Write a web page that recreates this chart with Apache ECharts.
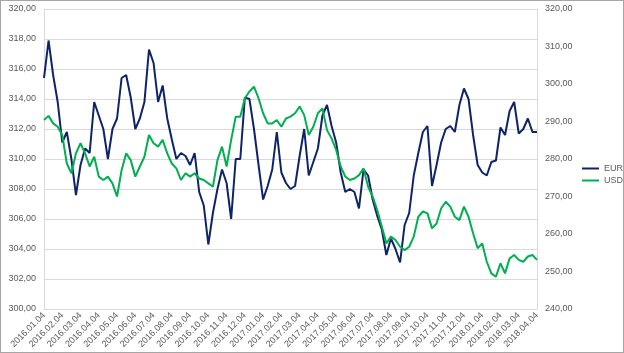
<!DOCTYPE html>
<html>
<head>
<meta charset="utf-8">
<script src="https://cdn.jsdelivr.net/npm/echarts@6/dist/echarts.min.js"></script>
<style>
html, body { margin: 0; padding: 0; background: #fff; }
#box {
    width: 624px;
    height: 353px;
    box-sizing: border-box;
    border: 1px solid #a6a6a6;
}
#chart { width: 622px; height: 351px; }
</style>
</head>
<body>
<div id="box"><div id="chart"></div></div>
<script>
// months on the x axis, weekly readings (04, 11, 18, 25)
var months = ['2016.01','2016.02','2016.03','2016.04','2016.05','2016.06','2016.07','2016.08','2016.09',
    '2016.10','2016.11','2016.12','2017.01','2017.02','2017.03','2017.04','2017.05','2017.06',
    '2017.07','2017.08','2017.09','2017.10','2017.11','2017.12','2018.01','2018.02','2018.03','2018.04'];
var days = ['04', '11', '18', '25'];

// EUR (left axis)
var eur = [315.4,317.9,315.6,313.8, 311.1,311.8,310.0,307.6, 309.6,310.7,310.4,313.8,
    312.9,312.0,310.0,312.0, 312.7,315.4,315.6,314.1, 312.0,312.7,313.8,317.3,
    316.4,313.8,314.9,312.7, 311.3,310.0,310.4,310.2, 309.6,310.4,307.8,306.9,
    304.3,306.4,308.0,309.3, 308.4,306.0,310.0,310.0, 314.1,314.0,312.0,309.6,
    307.3,308.2,309.3,311.8, 309.1,308.4,308.0,308.2, 310.2,312.0,308.9,309.8,
    310.7,312.9,313.6,312.2, 311.1,309.1,307.8,308.0, 307.8,306.7,309.3,308.9,
    307.3,306.2,305.3,303.6, 304.7,304.0,303.1,305.6, 306.4,308.9,310.4,311.8,
    312.2,308.2,309.6,311.1, 312.0,312.2,311.8,313.6, 314.7,314.0,311.6,309.6,
    309.1,308.9,309.8,309.9, 312.1,311.6,313.2,313.8, 311.7,312.0,312.7,311.8,
    311.8];

// USD (right axis)
var usd = [290.4,291.5,289.5,288.6, 286.4,278.8,276.2,281.5, 284.2,281.5,278.0,280.6,
    275.3,274.4,275.3,273.5, 270.0,277.0,281.5,279.7, 275.3,278.0,280.6,286.4,
    284.2,283.3,285.1,281.5, 278.8,277.5,274.4,276.2, 275.3,276.2,274.8,274.4,
    273.5,272.6,279.7,283.3, 278.0,285.1,291.3,291.3, 296.2,298.0,299.3,296.2,
    292.2,289.5,289.5,290.4, 288.6,290.8,291.3,292.2, 294.0,291.7,286.4,288.6,
    292.2,293.5,287.7,285.5, 282.4,278.0,275.3,274.4, 274.8,275.7,277.5,272.6,
    270.0,266.4,262.0,257.5, 259.3,258.4,256.6,255.7, 256.6,259.3,264.6,266.0,
    265.5,261.5,262.8,266.8, 268.6,267.3,264.6,263.7, 267.3,264.6,260.2,256.2,
    257.5,252.6,249.5,248.6, 252.2,249.5,253.5,254.4, 253.1,252.6,254.0,254.4,
    253.1];

var dates = [];
months.forEach(function (m) {
    days.forEach(function (d) { dates.push(m + '.' + d); });
});
dates = dates.slice(0, eur.length);

function fmt(v) { return v.toFixed(2).replace('.', ','); }

var chart = echarts.init(document.getElementById('chart'));
var lbl = { color: '#595959', fontSize: 9, fontFamily: 'Liberation Sans' };

chart.setOption({
    animation: false,
    backgroundColor: '#fff',
    grid: { left: 43, right: 86, top: 8, bottom: 43 },
    legend: {
        orient: 'vertical',
        left: 581,
        top: 163,
        padding: 0,
        icon: 'rect',
        itemWidth: 17,
        itemHeight: 2,
        itemGap: 3,
        textStyle: { color: '#595959', fontSize: 9, fontFamily: 'Liberation Sans' },
        data: ['EUR', 'USD']
    },
    xAxis: {
        type: 'category',
        data: dates,
        boundaryGap: false,
        axisLine: { lineStyle: { color: '#d9d9d9' } },
        axisTick: { show: false },
        axisLabel: Object.assign({ rotate: 45, interval: 3, margin: 5 }, lbl),
        splitLine: { show: false }
    },
    yAxis: [
        {
            type: 'value', min: 300, max: 320, interval: 2,
            axisLine: { show: true, lineStyle: { color: '#d9d9d9' } },
            axisTick: { show: false },
            axisLabel: Object.assign({ formatter: fmt, margin: 8 }, lbl),
            splitLine: { lineStyle: { color: '#d9d9d9' } }
        },
        {
            type: 'value', min: 240, max: 320, interval: 10,
            axisLine: { show: true, lineStyle: { color: '#d9d9d9' } },
            axisTick: { show: false },
            axisLabel: Object.assign({ formatter: fmt, margin: 8 }, lbl),
            splitLine: { show: false }
        }
    ],
    series: [
        {
            name: 'EUR', type: 'line', yAxisIndex: 0, data: eur,
            showSymbol: false, color: '#0e2468',
            lineStyle: { width: 2 }
        },
        {
            name: 'USD', type: 'line', yAxisIndex: 1, data: usd,
            showSymbol: false, color: '#00b050',
            lineStyle: { width: 2 }
        }
    ]
});
</script>
</body>
</html>
